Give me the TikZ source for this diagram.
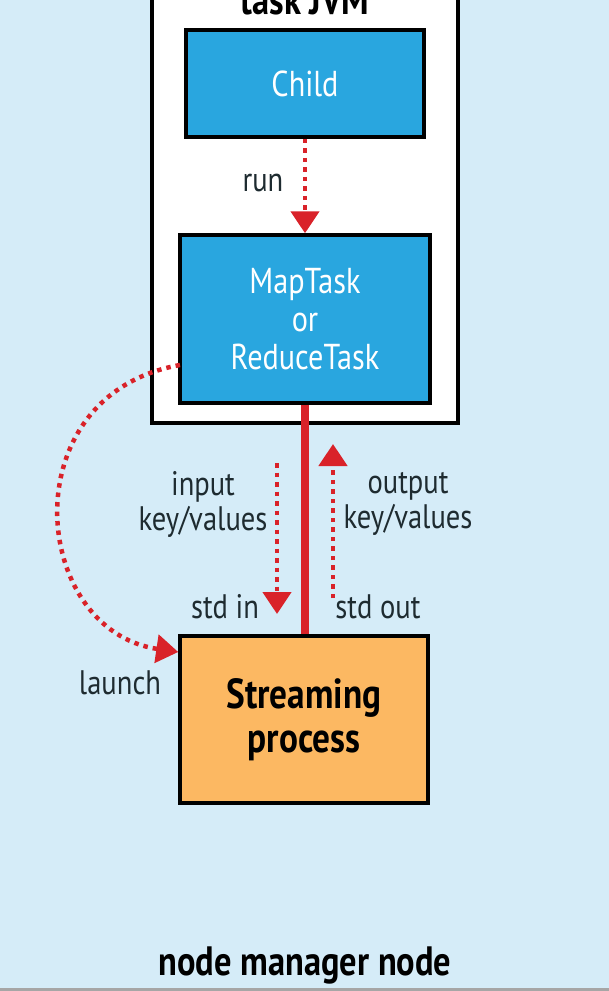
\documentclass[tikz,border=0pt]{standalone}
\usepackage{fontspec}
\setmainfont{PT Sans}[FakeStretch=0.84]
\usetikzlibrary{arrows.meta}
\definecolor{bgblue}{HTML}{D5ECF8}
\definecolor{boxblue}{HTML}{29A6DF}
\definecolor{procorange}{HTML}{FCB862}
\definecolor{arrred}{HTML}{D92229}
\definecolor{txt}{HTML}{1E2B30}
\tikzset{
  bluebox/.style={draw=black, line width=3.5pt, fill=boxblue, text=white, align=center,
    font=\fontsize{36}{38}\selectfont, inner sep=0pt},
  dotarrow/.style={draw=arrred, line width=4.5pt, dash pattern=on 4.5pt off 5pt,
    -{Triangle[length=22pt,width=28pt]}},
  lbl/.style={text=txt, font=\fontsize{34}{35}\selectfont, align=center, inner sep=0pt},
  boldlbl/.style={text=black, font=\bfseries\fontsize{41}{44}\selectfont, inner sep=0pt},
}
\begin{document}
\begin{tikzpicture}[x=1pt,y=-1pt]
\useasboundingbox (0,0) rectangle (609,991);
\fill[bgblue] (0,0) rectangle (609,991);
\draw[black!35, line width=3pt] (0,989.5) -- (609,989.5);
% task JVM box
\node[draw=black, line width=3.5pt, fill=white, minimum width=306pt, minimum height=460pt, inner sep=0pt] (jvm) at (305,193) {};
\node[boldlbl, anchor=base] (jvmtitle) at (305,14) {task JVM};
% boxes
\node[bluebox, minimum width=238pt, minimum height=107pt] (child) at (305,83.5) {Child};
\node[bluebox, minimum width=250pt, minimum height=168pt] (task) at (305,319) {MapTask\\or\\ReduceTask};
\node[draw=black, line width=3.5pt, fill=procorange, minimum width=248pt, minimum height=167pt,
  align=center, font=\bfseries\fontsize{42}{44}\selectfont, inner sep=0pt] (stream) at (304,719.5) {Streaming\\process};
% thick red line
\draw[arrred, line width=8pt] (task.south) -- (task.south |- stream.north);
% run arrow
\draw[dotarrow] (child.south) -- (task.north);
\node[lbl] (run) at (263,183) {run};
% input / output
\coordinate (inA) at (277,463);
\coordinate (inB) at (277,614);
\coordinate (outA) at (333,598);
\coordinate (outB) at (333,444);
\draw[dotarrow] (inA) -- (inB);
\draw[dotarrow] (outA) -- (outB);
\node[lbl] (inlbl) at (203,504) {input\\key/values};
\node[lbl] (outlbl) at (408,504) {output\\key/values};
\node[lbl] (stdin) at (225,607) {std in};
\node[lbl] (stdout) at (378,607) {std out};
% launch
\coordinate (lstart) at (180,365);
\draw[dotarrow] (lstart) .. controls (10,395) and (30,630) .. (stream.north west |- 0,652);
\node[lbl] (launch) at (120,683) {launch};
% footer
\node[boldlbl] (nm) at (305,965) {node manager node};
\end{tikzpicture}
\end{document}
